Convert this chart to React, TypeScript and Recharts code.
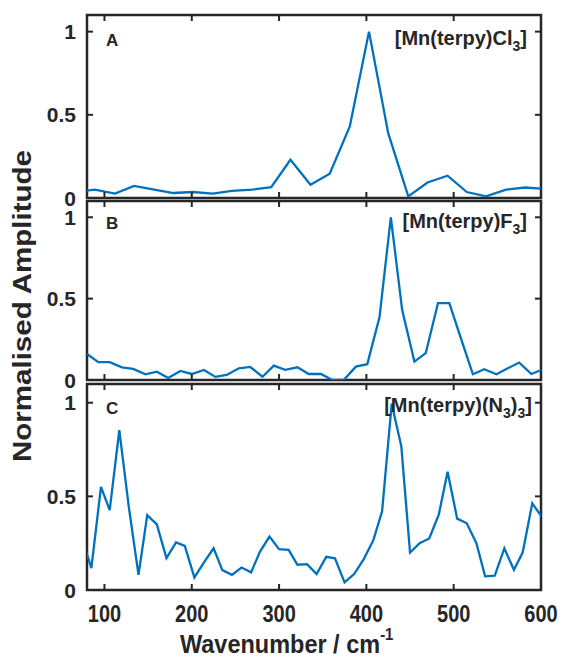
import React from "react";
import { LineChart, Line, XAxis, YAxis, ReferenceArea } from "recharts";

// shared axes
const xTicks = [100, 200, 300, 400, 500, 600];
const yTicks = [0, 0.5, 1];

// A: [Mn(terpy)Cl3]
const clWave = [67, 89, 112, 134, 157, 179, 201, 224, 246, 269, 291, 313, 336, 358, 381, 403, 425, 448, 470, 493, 515, 537, 560, 582, 605];
const clAmp = [0.035, 0.05, 0.026, 0.073, 0.05, 0.03, 0.036, 0.026, 0.043, 0.05, 0.065, 0.23, 0.08, 0.146, 0.43, 1.0, 0.39, 0.01, 0.093, 0.134, 0.036, 0.01, 0.05, 0.063, 0.055];

// B: [Mn(terpy)F3]
const fWave = [80, 93, 106, 120, 133, 147, 160, 173, 187, 200, 214, 227, 240, 254, 267, 281, 294, 307, 321, 334, 348, 361, 374, 388, 401, 415, 428, 441, 455, 468, 482, 495, 508, 522, 535, 549, 562, 575, 589, 602];
const fAmp = [0.16, 0.11, 0.11, 0.078, 0.068, 0.035, 0.051, 0.012, 0.056, 0.037, 0.062, 0.019, 0.031, 0.072, 0.08, 0.02, 0.088, 0.062, 0.078, 0.037, 0.037, 0.0, 0.0, 0.082, 0.097, 0.385, 1.0, 0.43, 0.113, 0.165, 0.473, 0.473, 0.26, 0.035, 0.066, 0.035, 0.072, 0.107, 0.037, 0.065];

// C: [Mn(terpy)(N3)3]
const n3Wave = [74, 85, 96, 106, 117, 128, 139, 149, 160, 171, 182, 192, 203, 214, 225, 235, 246, 257, 268, 278, 289, 300, 311, 321, 332, 343, 354, 364, 375, 386, 397, 408, 418, 429, 440, 450, 461, 472, 483, 493, 504, 515, 526, 536, 547, 558, 569, 579, 590, 601];
const n3Amp = [0.28, 0.117, 0.55, 0.427, 0.853, 0.44, 0.081, 0.4, 0.35, 0.17, 0.254, 0.236, 0.067, 0.147, 0.223, 0.106, 0.081, 0.12, 0.094, 0.204, 0.285, 0.218, 0.214, 0.135, 0.138, 0.085, 0.177, 0.169, 0.041, 0.085, 0.165, 0.266, 0.42, 0.995, 0.768, 0.2, 0.25, 0.275, 0.404, 0.631, 0.381, 0.356, 0.25, 0.073, 0.076, 0.222, 0.108, 0.2, 0.463, 0.39];

const W = 564;
const H = 667;
const PL = 87;
const PR = 541;
const INK = "#262626";
const BLUE = "#0072BD";
const FONT = "'Liberation Sans', Arial, sans-serif";
const TICK_LEN = 6;

function Panel({ xs, ys, top, bottom, showXLabels }: { xs: number[]; ys: number[]; top: number; bottom: number; showXLabels: boolean }) {
  const data = xs.map((x, i) => ({ x, y: ys[i] }));

  // inward ticks on bottom and top edges, labels under the last panel only
  const xTick = (p: any) => (
    <g>
      <line x1={p.x} x2={p.x} y1={bottom} y2={bottom - TICK_LEN} stroke={INK} strokeWidth={2} />
      <line x1={p.x} x2={p.x} y1={top} y2={top + TICK_LEN} stroke={INK} strokeWidth={2} />
      {showXLabels && (
        <text
          transform={`translate(${p.x},${bottom + 32}) scale(1,1.2)`}
          textAnchor="middle"
          fontSize={20}
          fontWeight="bold"
          fontFamily={FONT}
          fill={INK}
        >
          {p.payload.value}
        </text>
      )}
    </g>
  );

  // inward ticks on left and right edges
  const yTick = (p: any) => (
    <g>
      <line x1={PL} x2={PL + TICK_LEN} y1={p.y} y2={p.y} stroke={INK} strokeWidth={2} />
      <line x1={PR} x2={PR - TICK_LEN} y1={p.y} y2={p.y} stroke={INK} strokeWidth={2} />
      <text
        x={76}
        y={p.y}
        dy="0.36em"
        textAnchor="end"
        fontSize={21}
        fontWeight="bold"
        fontFamily={FONT}
        fill={INK}
      >
        {String(p.payload.value)}
      </text>
    </g>
  );

  return (
    <div style={{ position: "absolute", left: 0, top: 0 }}>
      <LineChart width={W} height={H} data={data} margin={{ top, right: W - PR, bottom: 0, left: 0 }}>
        <XAxis
          type="number"
          dataKey="x"
          domain={[80, 600]}
          allowDataOverflow
          ticks={xTicks}
          interval={0}
          height={H - bottom}
          axisLine={false}
          tickLine={false}
          tick={xTick}
        />
        <YAxis
          type="number"
          domain={[0, 1.1]}
          allowDataOverflow
          ticks={yTicks}
          interval={0}
          width={PL}
          axisLine={false}
          tickLine={false}
          tick={yTick}
        />
        <Line type="linear" dataKey="y" stroke={BLUE} strokeWidth={2.3} dot={false} isAnimationActive={false} />
        <ReferenceArea x1={80} x2={600} y1={0} y2={1.1} fill="none" stroke={INK} strokeWidth={2.5} ifOverflow="visible" />
      </LineChart>
    </div>
  );
}

const txt = { fontWeight: "bold", fontFamily: FONT, fill: INK } as const;

export default function App() {
  return (
    <div style={{ position: "absolute", left: 0, top: 0, width: W, height: H, background: "#fff" }}>
      <Panel xs={clWave} ys={clAmp} top={15} bottom={198} showXLabels={false} />
      <Panel xs={fWave} ys={fAmp} top={201} bottom={380} showXLabels={false} />
      <Panel xs={n3Wave} ys={n3Amp} top={384} bottom={590} showXLabels={true} />

      <svg width={W} height={H} style={{ position: "absolute", left: 0, top: 0, pointerEvents: "none" }}>
        <text x={106} y={46} fontSize={17} {...txt}>A</text>
        <text x={106} y={229} fontSize={17} {...txt}>B</text>
        <text x={106} y={414} fontSize={17} {...txt}>C</text>

        <text x={527} y={45} fontSize={20} textAnchor="end" {...txt}>
          [Mn(terpy)Cl<tspan fontSize={14} dy={6}>3</tspan><tspan dy={-6}>]</tspan>
        </text>
        <text x={527} y={228} fontSize={20} textAnchor="end" {...txt}>
          [Mn(terpy)F<tspan fontSize={14} dy={6}>3</tspan><tspan dy={-6}>]</tspan>
        </text>
        <text x={532} y={412} fontSize={20} textAnchor="end" {...txt}>
          [Mn(terpy)(N<tspan fontSize={14} dy={6}>3</tspan><tspan dy={-6}>)</tspan>
          <tspan fontSize={14} dy={6}>3</tspan><tspan dy={-6}>]</tspan>
        </text>

        <text
          transform="translate(31,306) rotate(-90)"
          textAnchor="middle"
          fontSize={25}
          textLength={312}
          lengthAdjust="spacingAndGlyphs"
          {...txt}
        >
          Normalised Amplitude
        </text>

        <text transform="translate(180,653) scale(1,1.1)" fontSize={23.5} {...txt}>
          Wavenumber / cm<tspan fontSize={15} dy={-12}>-1</tspan>
        </text>
      </svg>
    </div>
  );
}
